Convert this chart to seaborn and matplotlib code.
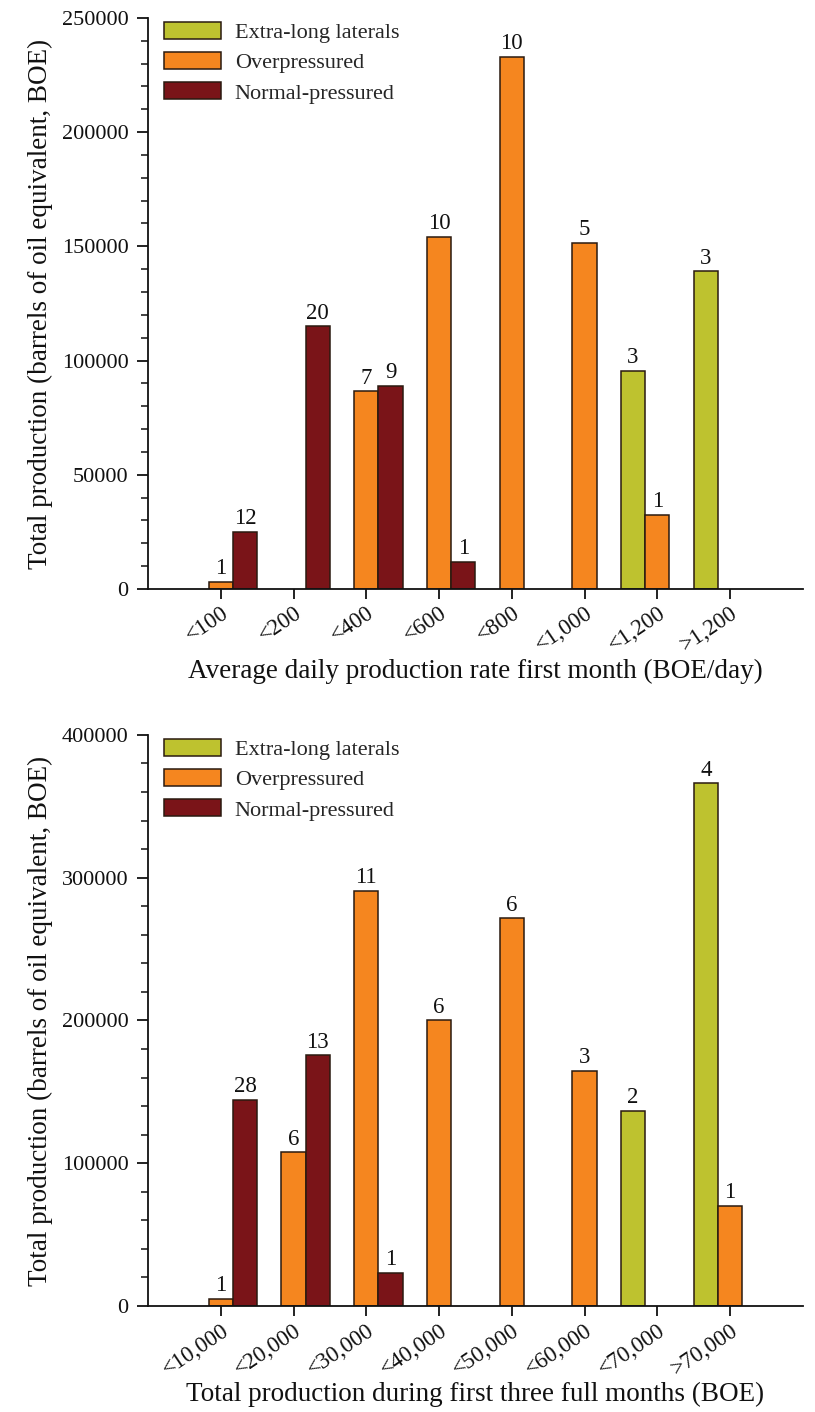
import numpy as np
import pandas as pd
import matplotlib
matplotlib.use("Agg")
import matplotlib.pyplot as plt
import matplotlib.patches as mpatches
from matplotlib.ticker import MultipleLocator
import seaborn as sns

nan = np.nan

# ---------------- data ----------------
series = ["Extra-long laterals", "Overpressured", "Normal-pressured"]
colors = ["#BEC22F", "#F5861F", "#7A1418"]

cats_top = ["<100", "<200", "<400", "<600", "<800", "<1,000", "<1,200", ">1,200"]
top_extra = [nan, nan, nan, nan, nan, nan, 95500, 139000]
top_over = [3000, nan, 86500, 154000, 233000, 151500, 32500, nan]
top_normal = [25000, 115000, 89000, 12000, nan, nan, nan, nan]
top_n_extra = [nan, nan, nan, nan, nan, nan, 3, 3]
top_n_over = [1, nan, 7, 10, 10, 5, 1, nan]
top_n_normal = [12, 20, 9, 1, nan, nan, nan, nan]

cats_bot = ["<10,000", "<20,000", "<30,000", "<40,000", "<50,000", "<60,000", "<70,000", ">70,000"]
bot_extra = [nan, nan, nan, nan, nan, nan, 136500, 366000]
bot_over = [5000, 107500, 291000, 200000, 271500, 164500, nan, 70000]
bot_normal = [144500, 175500, 23000, nan, nan, nan, nan, nan]
bot_n_extra = [nan, nan, nan, nan, nan, nan, 2, 4]
bot_n_over = [1, 6, 11, 6, 6, 3, nan, 1]
bot_n_normal = [28, 13, 1, nan, nan, nan, nan, nan]

xlabel_top = "Average daily production rate first month (BOE/day)"
xlabel_bot = "Total production during first three full months (BOE)"
ylabel = "Total production (barrels of oil equivalent, BOE)"


def long_df(cats, vals_list, n_list):
    rows = []
    for s, vals, ns in zip(series, vals_list, n_list):
        for c, v, n in zip(cats, vals, ns):
            if not np.isnan(v):
                rows.append({"cat": c, "series": s, "value": v, "n": int(n)})
    return pd.DataFrame(rows)


sns.set_theme(style="white")
plt.rcParams["font.family"] = ["Liberation Serif", "DejaVu Serif"]
plt.rcParams["axes.linewidth"] = 1.3
plt.rcParams["xtick.major.width"] = 1.3
plt.rcParams["ytick.major.width"] = 1.3
plt.rcParams["ytick.minor.width"] = 1.1

fig = plt.figure(figsize=(8.15, 14.12), dpi=100)
ax1 = fig.add_axes([0.1816, 0.5829, 0.8034, 0.4044])
ax2 = fig.add_axes([0.1816, 0.0751, 0.8034, 0.4044])

panels = [
    (ax1, cats_top, [top_extra, top_over, top_normal], [top_n_extra, top_n_over, top_n_normal],
     250000, 50000, 10000, xlabel_top),
    (ax2, cats_bot, [bot_extra, bot_over, bot_normal], [bot_n_extra, bot_n_over, bot_n_normal],
     400000, 100000, 20000, xlabel_bot),
]

for ax, cats, vals, ns, ymax, major, minor, xlabel in panels:
    df = long_df(cats, vals, ns)
    sns.barplot(data=df, x="cat", y="value", hue="series", order=cats,
                hue_order=series, palette=colors, width=1.0, errorbar=None,
                edgecolor="#2a1a10", linewidth=1.1, saturation=1, ax=ax,
                legend=False)
    # count labels above bars
    lookup = {(r.cat, r.series): r.n for r in df.itertuples()}
    for s, cont in zip(series, ax.containers):
        for bar in cont:
            h = bar.get_height()
            if not np.isfinite(h) or h <= 0:
                continue
            xc = bar.get_x() + bar.get_width() / 2
            c = cats[int(round(xc))]
            n = lookup.get((c, s))
            if n is None:
                continue
            ax.annotate(str(n), (xc, h), xytext=(0, 2), textcoords="offset points",
                        ha="center", va="bottom", fontsize=16.5, color="#111111")

    ax.set_xlim(-1.0, 8.0)
    ax.set_ylim(0, ymax)
    ax.yaxis.set_major_locator(MultipleLocator(major))
    ax.yaxis.set_minor_locator(MultipleLocator(minor))
    ax.yaxis.set_major_formatter(matplotlib.ticker.FuncFormatter(lambda v, p: f"{int(v)}"))
    ax.tick_params(axis="y", which="major", direction="out", length=8, labelsize=16,
                   left=True, pad=6, colors="#111111")
    ax.tick_params(axis="y", which="minor", direction="out", length=5, left=True,
                   colors="#111111")
    ax.tick_params(axis="x", which="major", direction="out", length=7, labelsize=16.5,
                   bottom=True, pad=3, colors="#111111")
    ax.set_xticks(range(len(cats)))
    ax.set_xticklabels(cats, rotation=34, ha="right", va="top", rotation_mode="anchor")
    for sp in ["top", "right"]:
        ax.spines[sp].set_visible(False)
    for sp in ["left", "bottom"]:
        ax.spines[sp].set_color("#111111")
    ax.set_xlabel(xlabel, fontsize=19.5, labelpad=2, color="#111111")
    ax.set_ylabel(ylabel, fontsize=19.5, labelpad=6, color="#111111")

    handles = [mpatches.Patch(facecolor=col, edgecolor="#2a1a10", linewidth=1.1, label=s)
               for s, col in zip(series, colors)]
    ax.legend(handles=handles, loc="upper left", bbox_to_anchor=(0.0, 1.02),
              frameon=False, fontsize=16, handlelength=2.6, handleheight=0.8,
              handletextpad=0.6, labelspacing=0.4, borderaxespad=0.3)

fig.savefig("out.png", dpi=100)
